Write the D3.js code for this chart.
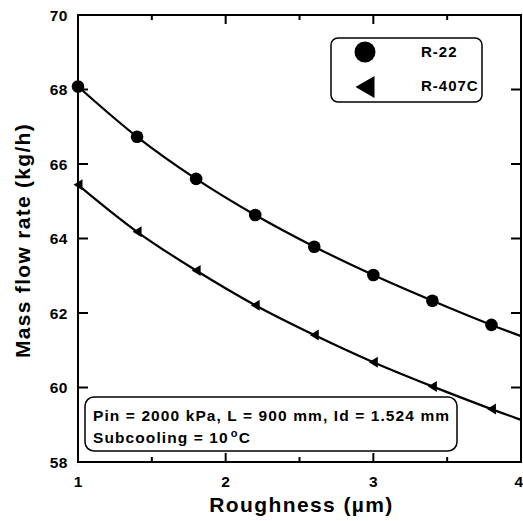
<!DOCTYPE html>
<html>
<head>
<meta charset="utf-8">
<script src="https://cdn.jsdelivr.net/npm/d3@7"></script>
<style>
  body { margin: 0; background: #fff; }
  text { font-family: "Liberation Sans", Arial, sans-serif; font-weight: bold; fill: #000; }
</style>
</head>
<body>
<script>
// values
let roughness = [1.0, 1.4, 1.8, 2.2, 2.6, 3.0, 3.4, 3.8];
let r22 = [68.08, 66.73, 65.6, 64.63, 63.78, 63.02, 62.33, 61.68];
let r407c = [65.44, 64.18, 63.14, 62.21, 61.41, 60.68, 60.03, 59.42];
// curve continues to the right edge of the frame
let curveEndX = 4.0;
let r22End = 61.38;
let r407cEnd = 59.13;

let xTicks = [1, 2, 3, 4];
let xMinorTicks = [1.5, 2.5, 3.5];
let yTicks = [58, 60, 62, 64, 66, 68, 70];

let seriesNames = ["R-22", "R-407C"];
let noteLines = ["Pin = 2000 kPa, L = 900 mm, Id = 1.524 mm", "Subcooling = 10"];

let margin = {top: 15, left: 78, bottom: 59, right: 2};
let width = 523 - margin.left - margin.right,
    height = 521 - margin.top - margin.bottom;

let svg = d3.select("body").append("svg")
  .attr("width", 523)
  .attr("height", 521);

let g = svg.append("g")
  .attr("transform", `translate(${margin.left}, ${margin.top})`);

let x = d3.scaleLinear().domain([1, 4]).range([0, width]);
let y = d3.scaleLinear().domain([58, 70]).range([height, 0]);

// frame
g.append("rect")
  .attr("width", width).attr("height", height)
  .attr("fill", "none").attr("stroke", "#000").attr("stroke-width", 2);

// ticks, all pointing inward
function tickLines(vals, len, horizontal) {
  vals.forEach(v => {
    if (horizontal) {
      g.append("line").attr("x1", x(v)).attr("x2", x(v)).attr("y1", height).attr("y2", height - len)
        .attr("stroke", "#000").attr("stroke-width", 2);
      g.append("line").attr("x1", x(v)).attr("x2", x(v)).attr("y1", 0).attr("y2", len)
        .attr("stroke", "#000").attr("stroke-width", 2);
    } else {
      g.append("line").attr("x1", 0).attr("x2", len).attr("y1", y(v)).attr("y2", y(v))
        .attr("stroke", "#000").attr("stroke-width", 2);
      g.append("line").attr("x1", width).attr("x2", width - len).attr("y1", y(v)).attr("y2", y(v))
        .attr("stroke", "#000").attr("stroke-width", 2);
    }
  });
}
tickLines(xTicks.slice(1, -1), 9, true);
tickLines(xMinorTicks, 5, true);
tickLines(yTicks.slice(1, -1), 10, false);

// tick labels (the last one is pulled in so it stays on the page)
g.selectAll(".xlab").data(xTicks).enter().append("text")
  .attr("x", (d, i) => i === xTicks.length - 1 ? x(d) + 2 : x(d))
  .attr("y", height + 25)
  .attr("text-anchor", (d, i) => i === xTicks.length - 1 ? "end" : "middle")
  .style("font-size", "15.5px")
  .text(d => d);

g.selectAll(".ylab").data(yTicks).enter().append("text")
  .attr("x", -10).attr("y", d => y(d) + 5.5)
  .attr("text-anchor", "end").style("font-size", "15.5px")
  .style("letter-spacing", "0.5px")
  .text(d => d);

// axis titles
svg.append("text")
  .attr("x", margin.left + width / 2 + 2).attr("y", 512)
  .attr("text-anchor", "middle").style("font-size", "21px")
  .style("letter-spacing", "1.4px")
  .text("Roughness (\u00b5m)");

svg.append("text")
  .attr("transform", `translate(30, ${margin.top + height / 2 + 2}) rotate(-90)`)
  .attr("text-anchor", "middle").style("font-size", "21px")
  .style("letter-spacing", "1.3px")
  .text("Mass flow rate (kg/h)");

// curves
let line = d3.line()
  .x(d => x(d[0])).y(d => y(d[1]))
  .curve(d3.curveCatmullRom);

let r22Pts = roughness.map((r, i) => [r, r22[i]]).concat([[curveEndX, r22End]]);
let r407Pts = roughness.map((r, i) => [r, r407c[i]]).concat([[curveEndX, r407cEnd]]);

[r22Pts, r407Pts].forEach(pts => {
  g.append("path").datum(pts)
    .attr("d", line)
    .attr("fill", "none").attr("stroke", "#000").attr("stroke-width", 2.2);
});

// markers
g.selectAll(".c").data(roughness).enter().append("circle")
  .attr("cx", d => x(d)).attr("cy", (d, i) => y(r22[i]))
  .attr("r", 6.3).attr("fill", "#000");

function triPath(cx, cy, w, h) {
  return `M${cx - w / 2},${cy} L${cx + w / 2},${cy - h / 2} L${cx + w / 2},${cy + h / 2} Z`;
}
g.selectAll(".t").data(roughness).enter().append("path")
  .attr("d", (d, i) => triPath(x(d), y(r407c[i]), 9, 11))
  .attr("fill", "#000");

// legend
let leg = svg.append("g");
leg.append("rect")
  .attr("x", 331).attr("y", 38).attr("width", 151).attr("height", 64)
  .attr("rx", 7).attr("fill", "#fff").attr("stroke", "#000").attr("stroke-width", 1.5);
leg.append("circle").attr("cx", 365).attr("cy", 52).attr("r", 10.5).attr("fill", "#000");
leg.append("path").attr("d", triPath(365, 87, 19, 22)).attr("fill", "#000");
leg.selectAll(".lt").data(seriesNames).enter().append("text")
  .attr("x", 421).attr("y", (d, i) => 57 + i * 34)
  .style("font-size", "15px").style("letter-spacing", "1px")
  .text(d => d);

// condition note
let note = svg.append("g");
note.append("rect")
  .attr("x", 85).attr("y", 397).attr("width", 372).attr("height", 54)
  .attr("rx", 9).attr("fill", "#fff").attr("stroke", "#000").attr("stroke-width", 1.5);
note.append("text").attr("x", 93).attr("y", 421)
  .style("font-size", "15.5px").style("letter-spacing", "1.1px")
  .text(noteLines[0]);
let t2 = note.append("text").attr("x", 93).attr("y", 443)
  .style("font-size", "15.5px").style("letter-spacing", "1.1px");
t2.append("tspan").text(noteLines[1]);
t2.append("tspan").attr("dx", 2).attr("dy", -6).style("font-size", "11px").text("o");
t2.append("tspan").attr("dy", 6).text("C");
</script>
</body>
</html>
